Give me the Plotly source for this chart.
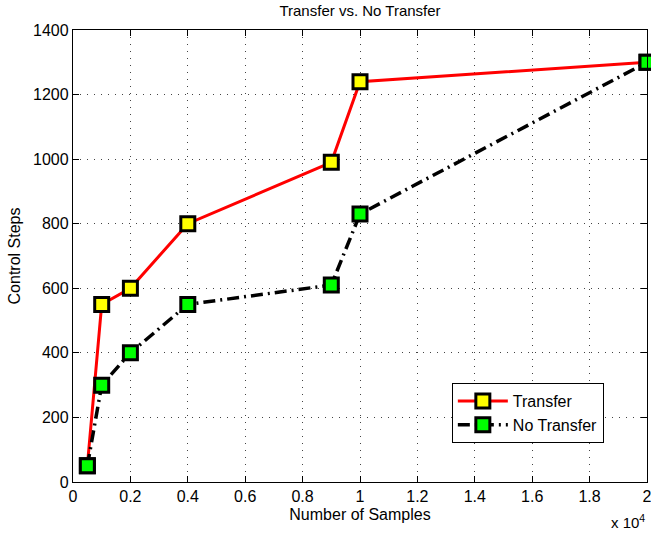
import plotly.graph_objects as go

samples = [500, 1000, 2000, 4000, 9000, 10000, 20000]
transfer = [50, 550, 600, 800, 990, 1240, 1300]
no_transfer = [50, 300, 400, 550, 610, 830, 1300]

x_tickvals = [0, 2000, 4000, 6000, 8000, 10000, 12000, 14000, 16000, 18000, 20000]
x_ticktext = ["0", "0.2", "0.4", "0.6", "0.8", "1", "1.2", "1.4", "1.6", "1.8", "2"]
y_tickvals = [0, 200, 400, 600, 800, 1000, 1200, 1400]

font = "Liberation Sans, Arial, Helvetica, sans-serif"

fig = go.Figure()
fig.add_trace(go.Scatter(
    x=samples, y=transfer, name="Transfer", mode="lines+markers",
    line=dict(color="#ff0000", width=3),
    marker=dict(symbol="square", size=14, color="#ffff00",
                line=dict(color="black", width=3)),
    cliponaxis=False,
))
fig.add_trace(go.Scatter(
    x=samples, y=no_transfer, name="No Transfer", mode="lines+markers",
    line=dict(color="black", width=3.5, dash="12px,5px,2px,5px"),
    marker=dict(symbol="square", size=14, color="#00ff00",
                line=dict(color="black", width=3)),
    cliponaxis=False,
))

axis_common = dict(
    showline=True, linecolor="black", linewidth=1.3, mirror="ticks",
    ticks="inside", ticklen=6, tickcolor="black", tickwidth=1,
    showgrid=True, gridcolor="#444444", griddash="1px,6px", gridwidth=1,
    zeroline=False, tickfont=dict(family=font, size=16, color="black"),
    ticklabeloverflow="allow", automargin=False,
)

fig.update_layout(
    width=651, height=534,
    margin=dict(l=73, r=4, t=30, b=52),
    paper_bgcolor="white", plot_bgcolor="white",
    title=dict(text="Transfer vs. No Transfer", x=0.5, xref="paper",
               xanchor="center", y=0.99, yanchor="top",
               font=dict(family=font, size=15, color="black")),
    xaxis=dict(range=[0, 20000], tickvals=x_tickvals, ticktext=x_ticktext,
               title=dict(text="Number of Samples", standoff=4,
                          font=dict(family=font, size=16, color="black")),
               **axis_common),
    yaxis=dict(range=[0, 1400], tickvals=y_tickvals,
               title=dict(text="Control Steps", standoff=8,
                          font=dict(family=font, size=16, color="black")),
               **axis_common),
    legend=dict(x=0.66, y=0.219, xanchor="left", yanchor="top",
                bgcolor="white", bordercolor="black", borderwidth=1,
                font=dict(family=font, size=16, color="black"),
                tracegroupgap=0, itemwidth=50),
    showlegend=True,
)

fig.add_annotation(text="x 10<sup>4</sup>", xref="paper", yref="paper",
                   x=1.0, y=-0.062, xanchor="right", yanchor="top",
                   showarrow=False,
                   font=dict(family=font, size=15, color="black"))

fig.write_html("out.html", config={"displayModeBar": False},
               post_script="document.body.style.margin='0';document.body.style.overflow='hidden';")
